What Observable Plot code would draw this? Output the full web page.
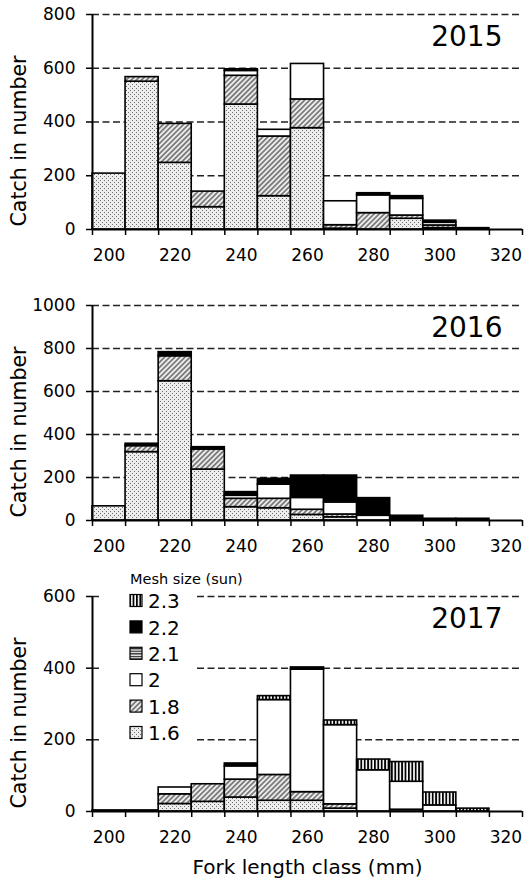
<!DOCTYPE html>
<html>
<head>
<meta charset="utf-8">
<script src="https://cdn.jsdelivr.net/npm/d3@7"></script>
<script src="https://cdn.jsdelivr.net/npm/@observablehq/plot@0.6"></script>
<style>
  html, body { margin: 0; padding: 0; background: #fff; }
  #chart { position: relative; width: 529px; height: 883px; font-family: "DejaVu Sans", sans-serif; }
  #chart svg { position: absolute; left: 0; }
</style>
</head>
<body>
<div id="chart"></div>
<script>
// Fork length classes (mm), 10 mm bins centred on these values
const lengthClasses = [200, 210, 220, 230, 240, 250, 260, 270, 280, 290, 300, 310, 320];
const xTickLabels = [200, 220, 240, 260, 280, 300, 320];
// Gill-net mesh sizes (sun), stacked bottom to top
const meshSizes = ["1.6", "1.8", "2", "2.1", "2.2", "2.3"];

// 2015 catch by mesh size
const c2015_16 = [208, 550, 248, 83, 465, 124, 377, 3, 0, 40, 5, 0, 0];
const c2015_18 = [0, 17, 145, 58, 107, 222, 107, 13, 61, 12, 10, 0, 0];
const c2015_20 = [0, 0, 0, 0, 18, 25, 132, 89, 66, 62, 10, 0, 0];
const c2015_21 = [0, 0, 0, 0, 0, 0, 0, 0, 0, 0, 0, 0, 0];
const c2015_22 = [0, 0, 0, 0, 6, 0, 0, 0, 8, 10, 8, 5, 0];
const c2015_23 = [0, 0, 0, 0, 0, 0, 0, 0, 0, 0, 0, 0, 0];

// 2016 catch by mesh size
const c2016_16 = [66, 318, 648, 237, 62, 57, 26, 15, 0, 0, 0, 0, 0];
const c2016_18 = [0, 28, 116, 93, 39, 44, 24, 13, 0, 0, 0, 0, 0];
const c2016_20 = [0, 0, 0, 0, 14, 66, 55, 56, 22, 0, 0, 0, 0];
const c2016_21 = [0, 0, 0, 0, 0, 0, 0, 0, 0, 0, 0, 0, 0];
const c2016_22 = [0, 11, 19, 11, 17, 27, 104, 125, 82, 22, 8, 8, 0];
const c2016_23 = [0, 0, 0, 0, 0, 0, 0, 0, 0, 0, 0, 0, 0];

// 2017 catch by mesh size
const c2017_16 = [3, 3, 21, 27, 39, 30, 30, 8, 0, 5, 0, 0, 0];
const c2017_18 = [0, 0, 27, 49, 50, 72, 24, 12, 0, 0, 0, 0, 0];
const c2017_20 = [0, 0, 19, 0, 37, 209, 342, 221, 115, 78, 17, 0, 0];
const c2017_21 = [0, 0, 0, 0, 0, 0, 0, 0, 0, 0, 0, 0, 0];
const c2017_22 = [0, 0, 0, 0, 8, 0, 6, 0, 0, 0, 0, 0, 0];
const c2017_23 = [0, 0, 0, 0, 0, 11, 0, 13, 30, 55, 36, 8, 0];

const years = [2015, 2016, 2017];
const yMaxima = [800, 1000, 600];
const catchByYear = [
  [c2015_16, c2015_18, c2015_20, c2015_21, c2015_22, c2015_23],
  [c2016_16, c2016_18, c2016_20, c2016_21, c2016_22, c2016_23],
  [c2017_16, c2017_18, c2017_20, c2017_21, c2017_22, c2017_23]
];

const meshFill = {
  "1.6": "url(#mesh-16)",
  "1.8": "url(#mesh-18)",
  "2": "#ffffff",
  "2.1": "url(#mesh-21)",
  "2.2": "#000000",
  "2.3": "url(#mesh-23)"
};

const chart = document.getElementById("chart");

// Shared fill patterns
chart.insertAdjacentHTML("beforeend", `
<svg width="0" height="0" style="position:absolute;top:0;left:0">
  <defs>
    <pattern id="mesh-16" width="4" height="4" patternUnits="userSpaceOnUse">
      <rect width="4" height="4" fill="#ededed"/>
      <rect x="0" y="0" width="1" height="1" fill="#6e6e6e"/>
      <rect x="2" y="2" width="1" height="1" fill="#6e6e6e"/>
    </pattern>
    <pattern id="mesh-18" width="3.6" height="4" patternUnits="userSpaceOnUse" patternTransform="rotate(45)">
      <rect width="3.6" height="4" fill="#ececec"/>
      <line x1="1.8" y1="0" x2="1.8" y2="4" stroke="#444" stroke-width="1.2"/>
    </pattern>
    <pattern id="mesh-21" width="4" height="2.6" patternUnits="userSpaceOnUse">
      <rect width="4" height="2.6" fill="#ffffff"/>
      <rect y="0" width="4" height="1.3" fill="#222"/>
    </pattern>
    <pattern id="mesh-23" width="3.4" height="4" patternUnits="userSpaceOnUse">
      <rect width="3.4" height="4" fill="#ffffff"/>
      <rect x="0" width="1.8" height="4" fill="#000"/>
    </pattern>
  </defs>
</svg>`);

// Page placement of each panel
const panelLayout = [
  {top: 0, height: 285, marginTop: 14, marginBottom: 56},
  {top: 285, height: 285, marginTop: 20, marginBottom: 50},
  {top: 570, height: 313, marginTop: 26, marginBottom: 72}
];

const binEdges = lengthClasses.map(d => d - 5).concat([lengthClasses[lengthClasses.length - 1] + 5]);

years.forEach((year, k) => {
  const rows = [];
  lengthClasses.forEach((fl, i) => {
    meshSizes.forEach((mesh, j) => {
      const n = catchByYear[k][j][i];
      if (n > 0) rows.push({fl, mesh, n});
    });
  });
  const yMax = yMaxima[k];
  const yTicks = d3.range(0, yMax + 1, 200);
  const lay = panelLayout[k];

  const marks = [
    Plot.ruleY(yTicks.filter(v => v > 0), {stroke: "#222", strokeWidth: 1.5, strokeDasharray: "7,3.5"}),
    Plot.rectY(rows, {
      x1: d => d.fl - 5,
      x2: d => d.fl + 5,
      y: "n",
      fill: d => meshFill[d.mesh],
      stroke: "#000",
      strokeWidth: 1.6
    }),
    Plot.axisY({ticks: yTicks, tickSize: 6, tickPadding: 11, tickFormat: d => String(d), label: null, strokeWidth: 1.5}),
    Plot.ruleX([binEdges[0]], {stroke: "#000", strokeWidth: 2}),
    Plot.ruleY([0], {stroke: "#000", strokeWidth: 2}),
    Plot.axisX({ticks: binEdges, tickSize: 6, tickFormat: () => "", label: null, strokeWidth: 1.5}),
    Plot.axisX({ticks: xTickLabels, tickSize: 0, tickPadding: 19, tickFormat: d => String(d), label: null}),
    Plot.text([String(year)], {frameAnchor: "top-right", lineAnchor: "top", textAnchor: "end", dx: -20, dy: 12, fontSize: 28}),
    Plot.text(["Catch in number"], {frameAnchor: "left", textAnchor: "middle", rotate: -90, dx: -73, dy: 19, fontSize: 20.5})
  ];
  if (k === 2) {
    marks.push(Plot.text(["Fork length class (mm)"], {frameAnchor: "bottom", textAnchor: "middle", lineAnchor: "middle", dy: 56, fontSize: 20}));
  }

  const svg = Plot.plot({
    width: 529,
    height: lay.height,
    marginLeft: 92,
    marginRight: 7,
    marginTop: lay.marginTop,
    marginBottom: lay.marginBottom,
    style: {fontFamily: "DejaVu Sans, sans-serif", fontSize: "17px", color: "#000", background: "transparent", overflow: "visible"},
    x: {domain: [binEdges[0], binEdges[binEdges.length - 1]]},
    y: {domain: [0, yMax]},
    color: {type: "identity"},
    marks
  });
  svg.style.top = lay.top + "px";
  chart.appendChild(svg);

  // Mesh-size legend inside the 2017 panel
  if (k === 2) {
    const g = d3.select(svg).append("g")
      .attr("font-family", "DejaVu Sans, sans-serif")
      .attr("text-anchor", "start");
    g.append("rect").attr("x", 100).attr("y", 2).attr("width", 97).attr("height", 174).attr("fill", "#fff");
    g.append("text").attr("x", 130).attr("y", 14).attr("font-size", 14.5).attr("fill", "#000").text("Mesh size (sun)");
    meshSizes.slice().reverse().forEach((mesh, i) => {
      const cy = 31 + i * 26.4;
      g.append("rect").attr("x", 130).attr("y", cy - 6.5).attr("width", 12).attr("height", 12)
        .attr("fill", meshFill[mesh]).attr("stroke", "#000").attr("stroke-width", 1.2);
      g.append("text").attr("x", 148).attr("y", cy).attr("dy", "0.36em").attr("font-size", 20)
        .attr("fill", "#000").text(mesh);
    });
  }
});
</script>
</body>
</html>
